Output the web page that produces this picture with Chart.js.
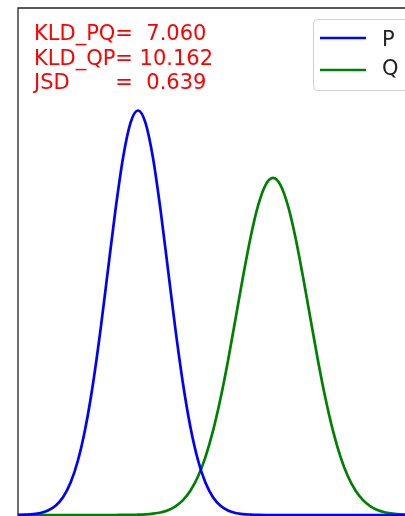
<!DOCTYPE html>
<html>
<head>
<meta charset="utf-8">
<script src="https://cdn.jsdelivr.net/npm/chart.js@4"></script>
<style>
  html, body { margin: 0; padding: 0; background: #fff; overflow: hidden; }
  #wrap { width: 405px; height: 516px; }
</style>
</head>
<body>
<div id="wrap"><canvas id="myChart"></canvas></div>
<script>
// x grid (step 0.25) and the two densities
let xs = [];
for (let i = 0; i <= 52; i++) xs.push(-4 + 0.25 * i);

let p_vals = [0.0001, 0.0004, 0.0009, 0.0020, 0.0044, 0.0091, 0.0175, 0.0317, 0.0540, 0.0863,
    0.1295, 0.1826, 0.2420, 0.3011, 0.3521, 0.3867, 0.3989, 0.3867, 0.3521, 0.3011,
    0.2420, 0.1826, 0.1295, 0.0863, 0.0540, 0.0317, 0.0175, 0.0091, 0.0044, 0.0020,
    0.0009, 0.0004, 0.0001, 0, 0, 0, 0, 0, 0, 0,
    0, 0, 0, 0, 0, 0, 0, 0, 0, 0,
    0, 0, 0];
let q_vals = [0, 0, 0, 0, 0, 0, 0, 0, 0, 0,
    0, 0, 0, 0, 0.0001, 0.0001, 0.0003, 0.0006, 0.0013, 0.0025,
    0.0047, 0.0085, 0.0146, 0.0241, 0.0379, 0.0573, 0.0829, 0.1148, 0.1522, 0.1933,
    0.2349, 0.2735, 0.3048, 0.3253, 0.3324, 0.3253, 0.3048, 0.2735, 0.2349, 0.1933,
    0.1522, 0.1148, 0.0829, 0.0573, 0.0379, 0.0241, 0.0146, 0.0085, 0.0047, 0.0025,
    0.0013, 0.0006, 0.0003];

let series_names = ["P", "Q"];
let series_colors = ["#0000ff", "#008000"];
let stat_lines = ["KLD_PQ=  7.060", "KLD_QP= 10.162", "JSD", "=  0.639"];

function toPoints(vals) {
    return xs.map((x, i) => ({ x: x, y: vals[i] }));
}

// spines (left + top only, the rest is cropped), text block, legend box
const decorations = {
    id: 'decorations',
    afterDraw(chart) {
        const ctx = chart.ctx;
        const a = chart.chartArea;
        ctx.save();
        ctx.strokeStyle = '#222';
        ctx.lineWidth = 1.3;
        ctx.beginPath();
        ctx.moveTo(a.left, a.bottom + 2);
        ctx.lineTo(a.left, a.top);
        ctx.lineTo(a.right + 2, a.top);
        ctx.stroke();

        // stats text
        ctx.fillStyle = '#ff0000';
        ctx.font = '21px "DejaVu Sans"';
        ctx.textBaseline = 'alphabetic';
        ctx.fillText(stat_lines[0], 34, 40);
        ctx.fillText(stat_lines[1], 34, 64.5);
        ctx.fillText(stat_lines[2], 34, 89);
        let eqX = 34 + ctx.measureText("KLD_PQ").width;
        ctx.fillText(stat_lines[3], eqX, 89);

        // legend
        let lx = 313, ly = 19, lw = 100, lh = 71;
        ctx.beginPath();
        ctx.roundRect(lx + 0.5, ly + 0.5, lw, lh, 4);
        ctx.fillStyle = 'rgba(255,255,255,0.8)';
        ctx.fill();
        ctx.strokeStyle = '#d0d0d0';
        ctx.lineWidth = 1;
        ctx.stroke();
        ctx.font = '21px "DejaVu Sans"';
        series_names.forEach((name, i) => {
            let y = 38 + i * 32;
            ctx.strokeStyle = series_colors[i];
            ctx.lineWidth = 2.7;
            ctx.beginPath();
            ctx.moveTo(320, y);
            ctx.lineTo(366, y);
            ctx.stroke();
            ctx.fillStyle = '#222';
            ctx.textBaseline = 'alphabetic';
            ctx.fillText(name, 382, 46 + i * 29);
        });
        ctx.restore();
    }
};

var ctx = document.getElementById('myChart').getContext('2d');
var chart = new Chart(ctx, {
    type: 'line',
    data: {
        datasets: [{
            label: series_names[0],
            borderColor: series_colors[0],
            data: toPoints(p_vals)
        }, {
            label: series_names[1],
            borderColor: series_colors[1],
            data: toPoints(q_vals)
        }]
    },
    options: {
        responsive: true,
        maintainAspectRatio: false,
        animation: false,
        layout: { padding: { left: 18, top: 8, right: 0, bottom: 0 } },
        elements: {
            point: { radius: 0 },
            line: { borderWidth: 2.7, cubicInterpolationMode: 'monotone' }
        },
        scales: {
            x: { type: 'linear', min: -4, max: 8.9, display: false },
            y: { min: -0.001, max: 0.5, display: false }
        },
        plugins: {
            legend: { display: false },
            tooltip: { enabled: false }
        }
    },
    plugins: [decorations]
});
</script>
</body>
</html>
